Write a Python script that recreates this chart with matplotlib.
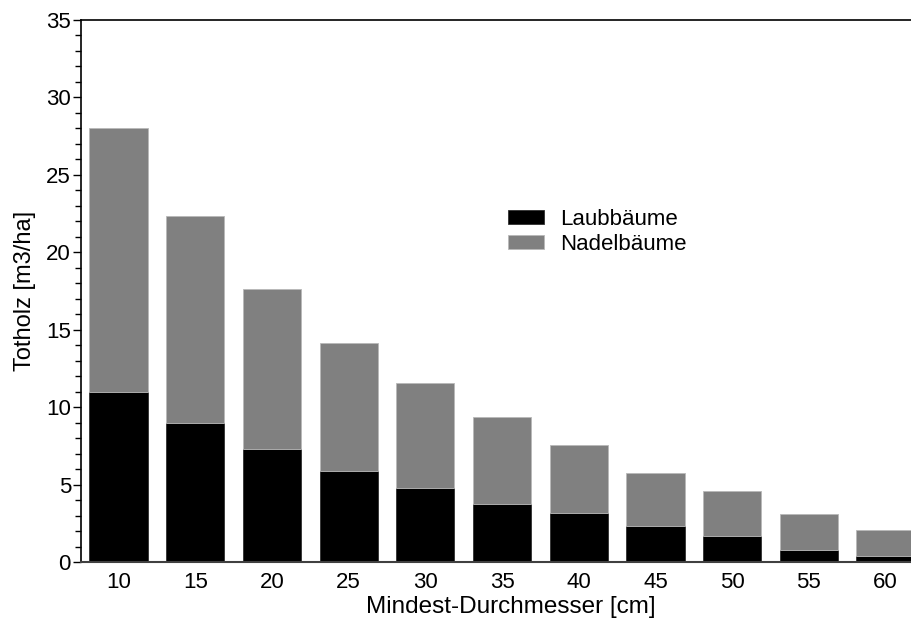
import matplotlib
matplotlib.use("Agg")
import matplotlib.pyplot as plt
from matplotlib.ticker import MultipleLocator

plt.rcParams['font.family'] = ['Liberation Sans', 'DejaVu Sans']

diameters = [10, 15, 20, 25, 30, 35, 40, 45, 50, 55, 60]
laub = [11.0, 8.97, 7.33, 5.9, 4.79, 3.79, 3.19, 2.37, 1.72, 0.82, 0.39]
nadel = [17.05, 13.36, 10.33, 8.24, 6.76, 5.59, 4.35, 3.39, 2.85, 2.28, 1.68]
labels = ["Laubbäume", "Nadelbäume"]

W, H = 911, 619
fig = plt.figure(figsize=(W / 100, H / 100), dpi=100)
# axes extends slightly past the right edge of the figure (clipped like the reference)
right_px = 941
ax = fig.add_axes([80.7 / W, (H - 562.3) / H, (right_px - 80.7) / W, (562.3 - 20) / H])

width = 5 * 0.76
ax.bar(diameters, laub, width=width, color='black', edgecolor='#303030', linewidth=0.6, label=labels[0])
ax.bar(diameters, nadel, width=width, bottom=laub, color='#808080', edgecolor='#b8b8b8', linewidth=0.6, label=labels[1])

ax.set_xlim(7.53, 63.62)
ax.set_ylim(0, 35)
ax.set_xticks(diameters)
ax.set_xticklabels([str(d) for d in diameters])
ax.yaxis.set_major_locator(MultipleLocator(5))
ax.yaxis.set_minor_locator(MultipleLocator(1))
ax.tick_params(axis='x', length=0, labelsize=16, pad=7)
ax.tick_params(axis='y', which='major', length=6, width=1, labelsize=16, pad=1, direction='out')
ax.tick_params(axis='y', which='minor', length=4, width=1, direction='out')

ax.spines['right'].set_visible(False)
for s in ['left', 'top']:
    ax.spines[s].set_color('black')
    ax.spines[s].set_linewidth(1.2)
ax.spines['bottom'].set_color('#404040')
ax.spines['bottom'].set_linewidth(1.5)

ax.set_xlabel("Mindest-Durchmesser [cm]", fontsize=17.5, labelpad=2)
ax.set_ylabel("Totholz [m3/ha]", fontsize=17, labelpad=7)

leg = ax.legend(loc='upper left', bbox_to_anchor=(507.7 / W, 1 - 209 / H), bbox_transform=fig.transFigure,
                frameon=False, fontsize=16, handlelength=1.65, handleheight=0.55,
                handletextpad=0.7, labelspacing=0.18, borderpad=0.0, borderaxespad=0.0)

fig.savefig("out.png", dpi=100)
